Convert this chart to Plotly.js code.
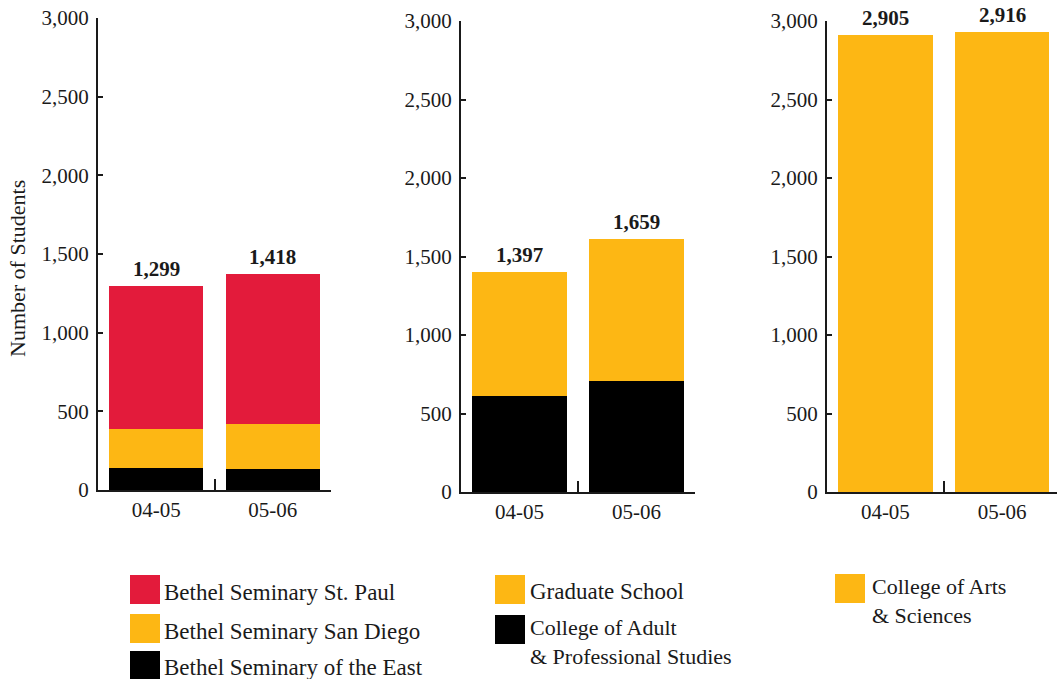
<!DOCTYPE html>
<html>
<head>
<meta charset="utf-8">
<script src="https://cdn.plot.ly/plotly-3.0.1.min.js"></script>
<style>
  html, body { margin: 0; padding: 0; background: #ffffff; }
  #chart { width: 1057px; height: 679px; }
</style>
</head>
<body>
<div id="chart"></div>
<script>
// ---- data ----
const years = ['04-05', '05-06'];

// Panel 1: Bethel Seminary
const seminaryEast = [140, 132];
const seminarySanDiego = [248, 286];
const seminaryStPaul = [911, 957];
const seminaryTotalLabels = ['1,299', '1,418'];

// Panel 2: Graduate + Adult & Professional
const adultProfessional = [611, 707];
const graduateSchool = [790, 902];
const gradTotalLabels = ['1,397', '1,659'];

// Panel 3: College of Arts & Sciences
const artsSciences = [2908, 2928];
const artsTotalLabels = ['2,905', '2,916'];

// Legend labels
const legend1 = ['Bethel Seminary St. Paul', 'Bethel Seminary San Diego', 'Bethel Seminary of the East'];
const legend2 = ['Graduate School', 'College of Adult<br>& Professional Studies'];
const legend3 = ['College of Arts<br>& Sciences'];
const yTitle = 'Number of Students';

// ---- styles ----
const RED = '#E31B3B', YEL = '#FDB714', BLK = '#000000', INK = '#1a1a1a';
const FONT = 'Liberation Serif, Times New Roman, serif';
const W = 1057, H = 679;
const px = v => v / W;
const py = v => 1 - v / H;

function bar(y, color, xa, ya, name) {
  return { type: 'bar', x: years, y: y, name: name, xaxis: xa, yaxis: ya,
    marker: { color: color, line: { width: 0 } }, hoverinfo: 'y+name', showlegend: false };
}

const traces = [
  bar(seminaryEast, BLK, 'x', 'y', legend1[2]),
  bar(seminarySanDiego, YEL, 'x', 'y', legend1[1]),
  bar(seminaryStPaul, RED, 'x', 'y', legend1[0]),
  bar(adultProfessional, BLK, 'x2', 'y2', 'College of Adult & Professional Studies'),
  bar(graduateSchool, YEL, 'x2', 'y2', legend2[0]),
  bar(artsSciences, YEL, 'x3', 'y3', 'College of Arts & Sciences')
];

const sum = (...arrs) => arrs[0].map((_, i) => arrs.reduce((s, a) => s + a[i], 0));
const tops1 = sum(seminaryEast, seminarySanDiego, seminaryStPaul);
const tops2 = sum(adultProfessional, graduateSchool);
const tops3 = artsSciences.slice();

const annotations = [];
function totals(tops, labels, xr, yr) {
  years.forEach((yr_, i) => {
    annotations.push({ x: yr_, y: tops[i], xref: xr, yref: yr, text: '<b>' + labels[i] + '</b>',
      showarrow: false, yanchor: 'bottom', yshift: 3,
      font: { family: FONT, size: 21, color: INK } });
  });
}
totals(tops1, seminaryTotalLabels, 'x', 'y');
totals(tops2, gradTotalLabels, 'x2', 'y2');
totals(tops3, artsTotalLabels, 'x3', 'y3');

// Y-axis title
annotations.push({ xref: 'paper', yref: 'paper', x: px(18), y: py(269), xanchor: 'center', yanchor: 'middle',
  text: yTitle, textangle: -90, showarrow: false, font: { family: FONT, size: 22, color: INK } });

// Legend (swatches + text)
const shapes = [];
function swatch(x0, y0, color) {
  shapes.push({ type: 'rect', xref: 'paper', yref: 'paper', x0: px(x0), x1: px(x0 + 30),
    y0: py(y0 + 29), y1: py(y0), fillcolor: color, line: { width: 0 } });
}
function ltext(x, yc, t, size) {
  annotations.push({ xref: 'paper', yref: 'paper', x: px(x), y: py(yc), xanchor: 'left', yanchor: 'middle',
    align: 'left', text: t, showarrow: false, font: { family: FONT, size: size || 23, color: INK } });
}
swatch(130, 575, RED); ltext(162, 592, legend1[0]);
swatch(130, 614, YEL); ltext(162, 631, legend1[1]);
swatch(130, 651, BLK); ltext(162, 667, legend1[2]);
swatch(495, 575, YEL); ltext(528, 591, legend2[0]);
swatch(495, 615, BLK); ltext(528, 642, legend2[1], 22);
swatch(835, 574, YEL); ltext(870, 601, legend3[0], 22);

function xax(d0, d1, range, anchor) {
  return { domain: [px(d0), px(d1)], anchor: anchor, type: 'category', range: range,
    showline: true, linecolor: INK, linewidth: 2, ticks: 'inside', tickson: 'boundaries',
    ticklen: 11, tickwidth: 2, tickcolor: INK, showgrid: false, zeroline: false,
    tickfont: { family: FONT, size: 21, color: INK }, fixedrange: true };
}
function yax(y0, y1, anchor) {
  return { domain: [py(y0), py(y1)], anchor: anchor, range: [0, 3000], dtick: 500, tick0: 0,
    tickformat: ',d', showline: true, linecolor: INK, linewidth: 2, ticks: 'inside', ticklen: 5,
    tickwidth: 2, tickcolor: INK, showgrid: false, zeroline: false, ticklabelstandoff: 3,
    tickfont: { family: FONT, size: 21, color: INK }, fixedrange: true };
}

const layout = {
  width: W, height: H, margin: { l: 0, r: 0, t: 0, b: 0 },
  paper_bgcolor: '#ffffff', plot_bgcolor: 'rgba(0,0,0,0)',
  barmode: 'stack', bargap: 0.19, showlegend: false,
  font: { family: FONT, color: INK },
  xaxis: xax(98, 331, [-0.5, 1.5], 'y'),
  yaxis: yax(490, 18, 'x'),
  xaxis2: xax(461, 695, [-0.5, 1.5], 'y2'),
  yaxis2: yax(492, 21, 'x2'),
  xaxis3: xax(827, 1057, [-0.5, 1.47], 'y3'),
  yaxis3: yax(492, 21, 'x3'),
  annotations: annotations,
  shapes: shapes
};

Plotly.newPlot('chart', traces, layout, { displayModeBar: false, staticPlot: true });
</script>
</body>
</html>
